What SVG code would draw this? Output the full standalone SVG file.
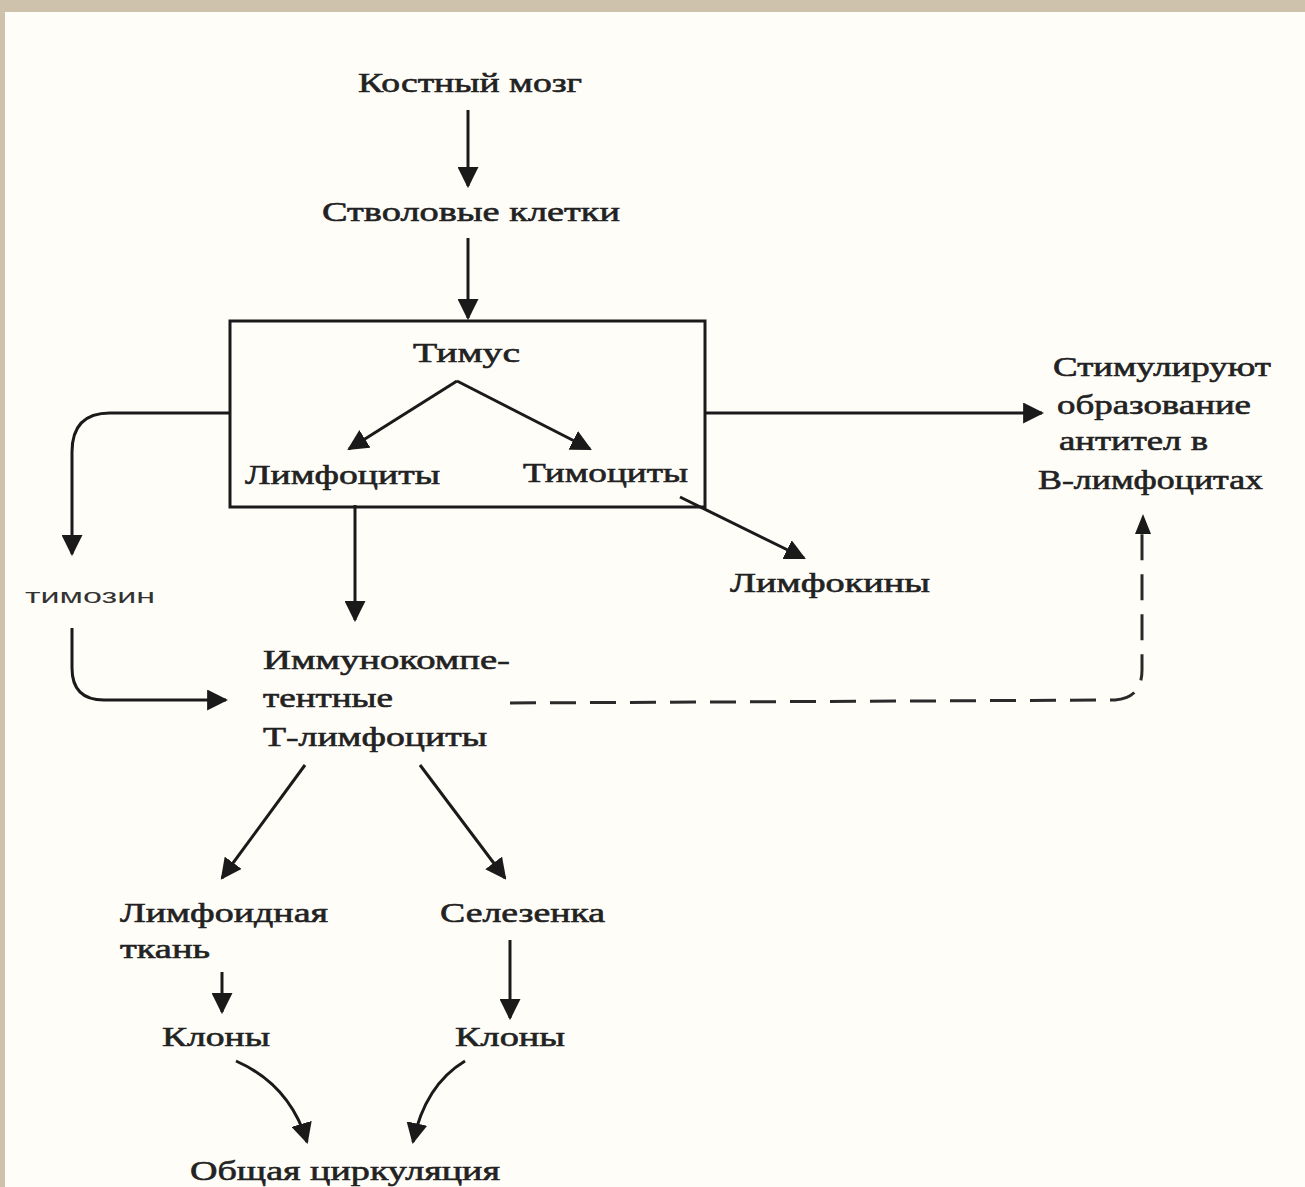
<svg xmlns="http://www.w3.org/2000/svg" width="1305" height="1187" viewBox="0 0 1305 1187">
<defs>
<marker id="ahb" viewBox="0 0 10 10" refX="9" refY="5" markerWidth="7" markerHeight="7" orient="auto">
<path d="M0,0 L10,5 L0,10 z" fill="#1a1a1a"/>
</marker>
<style>
.t{font-family:"Liberation Serif","Times New Roman",serif;font-size:28px;fill:#222;stroke:#222;stroke-width:0.6;}
.s{font-family:"Liberation Sans",Arial,sans-serif;font-size:20px;fill:#333;}
.c{fill:none;stroke:#1a1a1a;stroke-width:3;}
.d{fill:none;stroke:#2a2a2a;stroke-width:3;stroke-dasharray:26,14;}
</style>
</defs>
<rect x="0" y="0" width="1305" height="1187" fill="#fefdf8"/>
<rect x="0" y="0" width="1305" height="12" fill="#cfc2ad"/>
<rect x="0" y="0" width="5" height="1187" fill="#cfc2ad"/>

<g id="n-kostny"><text class="t" x="358" y="92" textLength="224" lengthAdjust="spacingAndGlyphs">Костный мозг</text></g>
<g id="n-stvol"><text class="t" x="322" y="221" textLength="298" lengthAdjust="spacingAndGlyphs">Стволовые клетки</text></g>
<g id="n-timus">
<rect x="230" y="321" width="475" height="186" fill="none" stroke="#1a1a1a" stroke-width="3"/>
<text class="t" x="413" y="362" textLength="107" lengthAdjust="spacingAndGlyphs">Тимус</text>
</g>
<g id="n-limfocity"><text class="t" x="245" y="484" textLength="195" lengthAdjust="spacingAndGlyphs">Лимфоциты</text></g>
<g id="n-timocity"><text class="t" x="523" y="482" textLength="165" lengthAdjust="spacingAndGlyphs">Тимоциты</text></g>
<g id="n-stim">
<text class="t" x="1053" y="376" textLength="218" lengthAdjust="spacingAndGlyphs">Стимулируют</text>
<text class="t" x="1057" y="414" textLength="194" lengthAdjust="spacingAndGlyphs">образование</text>
<text class="t" x="1059" y="450" textLength="149" lengthAdjust="spacingAndGlyphs">антител в</text>
<text class="t" x="1038" y="489" textLength="225" lengthAdjust="spacingAndGlyphs">В-лимфоцитах</text>
</g>
<g id="n-timozin"><text class="s" x="25" y="603" textLength="130" lengthAdjust="spacingAndGlyphs">тимозин</text></g>
<g id="n-limfokiny"><text class="t" x="730" y="592" textLength="200" lengthAdjust="spacingAndGlyphs">Лимфокины</text></g>
<g id="n-immuno">
<text class="t" x="263" y="669" textLength="247" lengthAdjust="spacingAndGlyphs">Иммунокомпе-</text>
<text class="t" x="263" y="707" textLength="130" lengthAdjust="spacingAndGlyphs">тентные</text>
<text class="t" x="263" y="746" textLength="224" lengthAdjust="spacingAndGlyphs">Т-лимфоциты</text>
</g>
<g id="n-limfoid">
<text class="t" x="120" y="922" textLength="208" lengthAdjust="spacingAndGlyphs">Лимфоидная</text>
<text class="t" x="120" y="958" textLength="90" lengthAdjust="spacingAndGlyphs">ткань</text>
</g>
<g id="n-selez"><text class="t" x="440" y="922" textLength="165" lengthAdjust="spacingAndGlyphs">Селезенка</text></g>
<g id="n-klony1"><text class="t" x="162" y="1046" textLength="108" lengthAdjust="spacingAndGlyphs">Клоны</text></g>
<g id="n-klony2"><text class="t" x="455" y="1046" textLength="110" lengthAdjust="spacingAndGlyphs">Клоны</text></g>
<g id="n-obsh"><text class="t" x="190" y="1180" textLength="310" lengthAdjust="spacingAndGlyphs">Общая циркуляция</text></g>

<g id="connectors">
<path class="c" d="M468,110 L468,186" marker-end="url(#ahb)"/>
<path class="c" d="M468,238 L468,318" marker-end="url(#ahb)"/>
<path class="c" d="M457,381 L349,449" marker-end="url(#ahb)"/>
<path class="c" d="M457,381 L590,449" marker-end="url(#ahb)"/>
<path class="c" d="M230,413 L110,413 Q72,413 72,452 L72,554" marker-end="url(#ahb)"/>
<path class="c" d="M72,628 L72,668 Q72,700 104,700 L226,700" marker-end="url(#ahb)"/>
<path class="c" d="M705,413 L1042,413" marker-end="url(#ahb)"/>
<path class="c" d="M680,497 L804,558" marker-end="url(#ahb)"/>
<path class="c" d="M355,505 L355,620" marker-end="url(#ahb)"/>
<path class="d" d="M510,703 L1115,700 Q1142,698 1142,670 L1142,530"/>
<path d="M1135,534 L1143,514 L1151,534 z" fill="#1a1a1a"/>
<path class="c" d="M305,765 L222,878" marker-end="url(#ahb)"/>
<path class="c" d="M420,765 L505,878" marker-end="url(#ahb)"/>
<path class="c" d="M222,972 L222,1012" marker-end="url(#ahb)"/>
<path class="c" d="M510,940 L510,1018" marker-end="url(#ahb)"/>
<path class="c" d="M236,1061 Q290,1085 307,1142" marker-end="url(#ahb)"/>
<path class="c" d="M465,1061 Q425,1085 413,1142" marker-end="url(#ahb)"/>
</g>
</svg>
